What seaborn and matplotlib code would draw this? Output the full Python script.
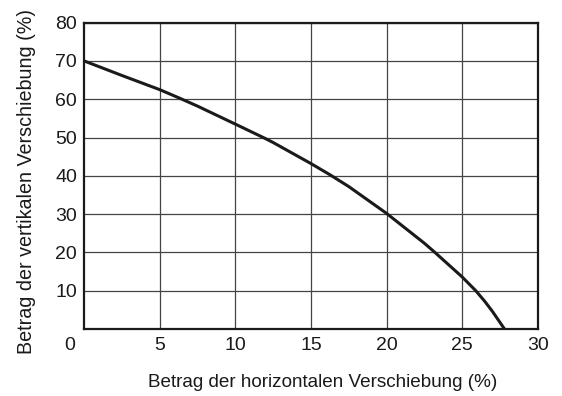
import matplotlib
matplotlib.use("Agg")
import matplotlib.pyplot as plt
import seaborn as sns
import pandas as pd

# Horizontal vs. vertical displacement (%)
horizontal = [0, 2.5, 5, 6.3, 7.5, 10, 11.85, 12.5, 15, 16.25, 17.5,
              20, 22.5, 23.2, 25, 25.9, 26.5, 27, 27.8]
vertical = [70, 66.2, 62.5, 60.3, 58.2, 53.5, 50, 48.7, 43.2, 40.3, 37.2,
            30.2, 22.4, 20, 13.6, 10, 7.2, 4.6, 0]
x_ticks = [5, 10, 15, 20, 25, 30]
y_ticks = [10, 20, 30, 40, 50, 60, 70, 80]

sns.set_style("white")
plt.rcParams["font.family"] = ["Liberation Sans", "DejaVu Sans"]

df = pd.DataFrame({"h": horizontal, "v": vertical})

fig = plt.figure(figsize=(5.62, 3.96), dpi=100)
ax = fig.add_axes([0.1495, 0.169, 0.8075, 0.774])

sns.lineplot(data=df, x="h", y="v", ax=ax, color="#1a1a1a", linewidth=2.2,
             sort=False, estimator=None, zorder=3)
ax.lines[0].set_solid_joinstyle("round")

ax.set_xlim(0, 30)
ax.set_ylim(0, 80)
ax.set_xticks(x_ticks)
ax.set_yticks(y_ticks)
ax.set_xticklabels([str(t) for t in x_ticks], fontsize=14)
ax.set_yticklabels([str(t) for t in y_ticks], fontsize=14)
ax.tick_params(axis="x", length=0, pad=6, colors="#1a1a1a")
ax.tick_params(axis="y", length=0, pad=5, colors="#1a1a1a")

ax.grid(True, color="#444444", linewidth=0.9)
for s in ax.spines.values():
    s.set_visible(True)
    s.set_color("#1a1a1a")
    s.set_linewidth(1.6)

# Shared origin label
ax.annotate("0", xy=(0, 0), xycoords="data", xytext=(-10, -11.5),
            textcoords="offset points", ha="center", va="center",
            fontsize=14, color="#1a1a1a")

ax.set_xlabel("Betrag der horizontalen Verschiebung (%)", fontsize=13.6,
              labelpad=14, color="#1a1a1a")
ax.xaxis.label.set_x(0.525)
ax.set_ylabel("Betrag der vertikalen Verschiebung (%)", fontsize=14.2,
              labelpad=14, color="#1a1a1a")
ax.yaxis.label.set_y(0.483)

fig.savefig("out.png", dpi=100)
